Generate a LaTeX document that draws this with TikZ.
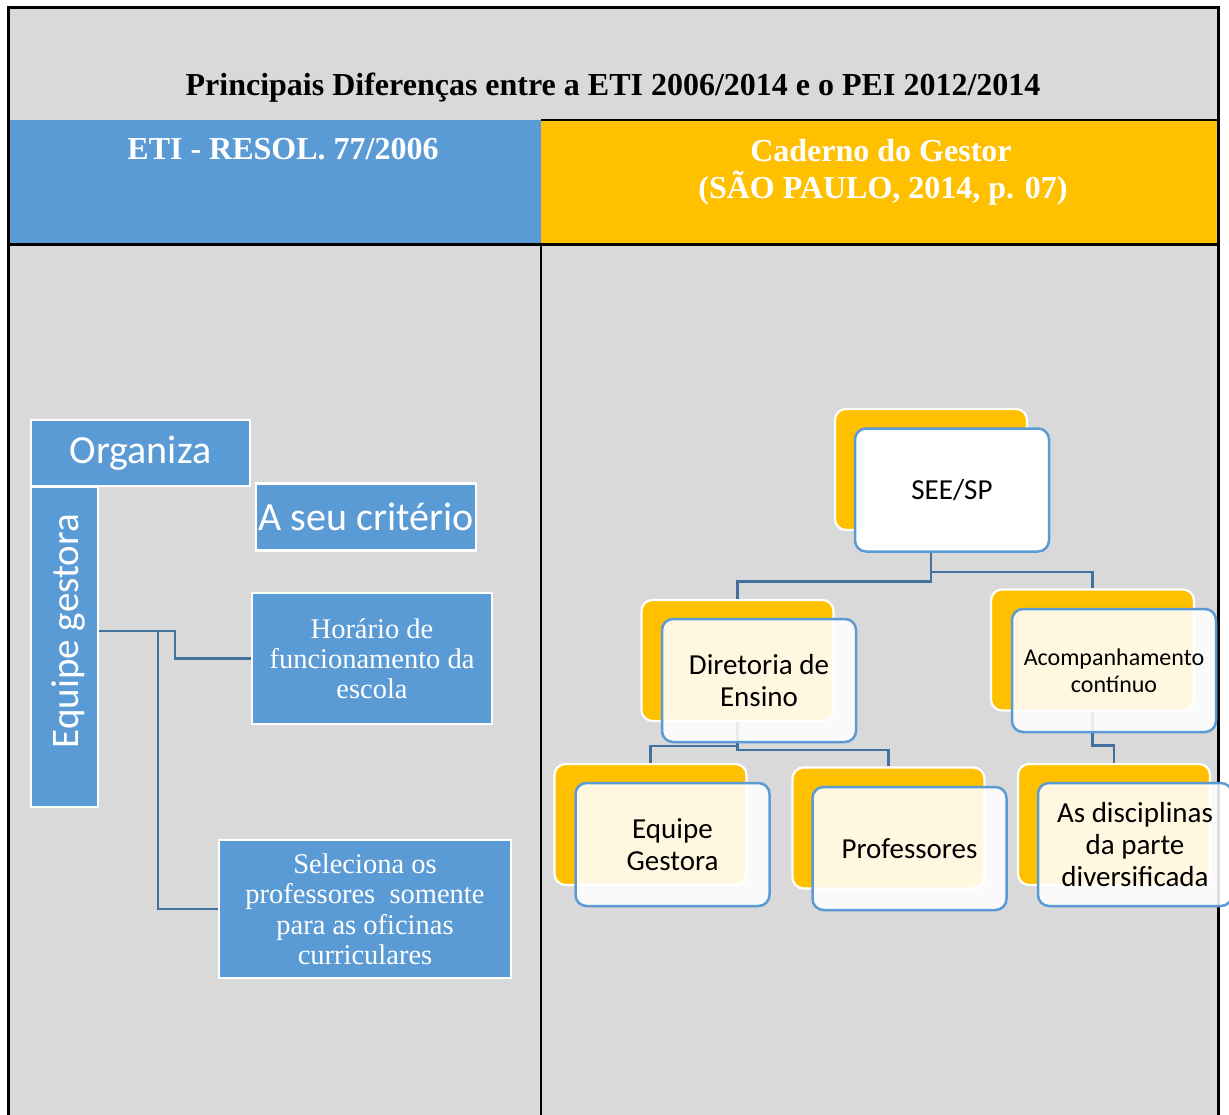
\documentclass[tikz,border=0pt]{standalone}
\usepackage{fontspec}
\setmainfont{Liberation Serif}
\newfontfamily\cali{Carlito}
\definecolor{lblue}{HTML}{5B9BD5}
\definecolor{orng}{HTML}{FFC000}
\definecolor{gry}{HTML}{D9D9D9}
\definecolor{conc}{HTML}{41719C}
\definecolor{fblue}{HTML}{5B9BD5}
\begin{document}
\begin{tikzpicture}[x=1pt,y=-1pt,
  lbox/.style={fill=lblue,draw=white,line width=2.2pt,text=white,inner sep=0pt,align=center},
  backbox/.style={fill=orng,draw=white,line width=2.2pt,rounded corners=11pt,minimum width=192pt,minimum height=121pt,inner sep=0pt},
  frontbox/.style={draw=fblue,line width=2.5pt,rounded corners=11pt,fill=white,fill opacity=0.88,text opacity=1,minimum width=194pt,minimum height=123pt,inner sep=0pt,align=center,font=\cali\fontsize{29}{32}\selectfont},
  conn/.style={draw=conc,line width=2.6pt},
  hdr/.style={font=\bfseries\fontsize{32}{36}\selectfont,anchor=base,inner sep=0pt}
  ]
\useasboundingbox (0,0) rectangle (1229,1115);
\fill[white] (0,0) rectangle (1229,1115);
% table
\fill[gry] (8,8) rectangle (1218,1115);
\fill[lblue] (9.5,120) rectangle (541,243);
\fill[orng] (541,121) rectangle (1217,243);
\draw[black,line width=3pt] (8,1115) -- (8,8) -- (1218,8) -- (1218,1115);
\draw[black,line width=2.6pt] (541,120) -- (1218,120);
\draw[black,line width=3pt] (8,244.5) -- (1218,244.5);
\draw[black,line width=2.6pt] (541,244) -- (541,1115);
% titles
\node[hdr] (title) at (613,96) {Principais Diferenças entre a ETI 2006/2014 e o PEI 2012/2014};
\node[hdr,text=white] (hl) at (283,160) {ETI - RESOL. 77/2006};
\node[hdr,text=white] (hr1) at (881,162) {Caderno do Gestor};
\node[hdr,text=white] (hr2) at (883,199) {(SÃO PAULO, 2014, p. 07)};
% left diagram
\node[lbox,minimum width=219pt,minimum height=66pt,font=\cali\fontsize{40}{44}\selectfont] (org) at (140.5,453) {Organiza};
\node[lbox,minimum width=67pt,minimum height=320pt] (egbox) at (64.5,647) {};
\node[rotate=90,text=white,inner sep=0pt,font=\cali\fontsize{39}{44}\selectfont] (egtext) at (68,631) {Equipe gestora};
\node[lbox,minimum width=220pt,minimum height=67pt,font=\cali\fontsize{40}{44}\selectfont] (asc) at (366,517) {A seu critério};
\node[lbox,minimum width=240pt,minimum height=131pt,font=\fontsize{28.5}{30}\selectfont] (hor) at (372,658.5) {Horário de\\funcionamento da\\escola};
\node[lbox,minimum width=292pt,minimum height=138pt,font=\fontsize{28.5}{30.5}\selectfont] (sel) at (365,909) {Seleciona os\\professores~ somente\\para as oficinas\\curriculares};
\coordinate (j1) at (158,631);
\coordinate (j2) at (175,631);
\draw[conn] (egbox.east |- j1) -- (j2) |- (hor.west);
\draw[conn] (j1) |- (sel.west);
% right diagram: back boxes
\node[backbox] (seeb) at (931,469.5) {};
\node[backbox] (dirb) at (737.5,660.5) {};
\node[backbox,minimum width=203pt] (acb) at (1092.5,650) {};
\node[backbox] (eqb) at (650.5,824.5) {};
\node[backbox] (prb) at (888.5,828) {};
\node[backbox] (adb) at (1114,824.5) {};
% connectors
\draw[conn] (seeb.south) -- ++(0,50.5) -| (dirb.north);
\draw[conn] (seeb.south) -- ++(0,41) -| (acb.north);
\draw[conn] (dirb.south) -- ++(0,24) -| (eqb.north);
\draw[conn] (dirb.south) -- ++(0,28) -| (prb.north);
\draw[conn] (acb.south) -- ++(0,34) -| (adb.north);
% front boxes
\node[frontbox,fill opacity=1] (see) at (952,490) {SEE/SP};
\node[frontbox] (dir) at (759,680.5) {Diretoria de\\Ensino};
\node[frontbox,minimum width=204pt,font=\cali\fontsize{24}{27}\selectfont] (ac) at (1114,670.5) {Acompanhamento\\contínuo};
\node[frontbox] (eq) at (672.5,844.5) {Equipe\\Gestora};
\node[frontbox] (pr) at (909.5,848.5) {Professores};
\node[frontbox] (ad) at (1135,844.5) {As disciplinas\\da parte\\diversificada};
\end{tikzpicture}
\end{document}
